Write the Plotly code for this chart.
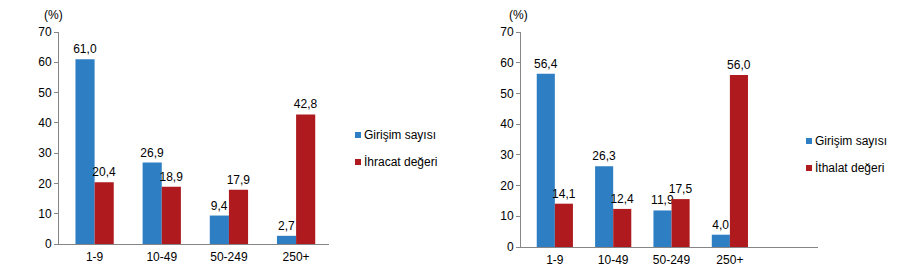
import plotly.graph_objects as go

categories = ["1-9", "10-49", "50-249", "250+"]
firm_left = [61.0, 26.9, 9.4, 2.7]
export_value = [20.4, 18.9, 17.9, 42.8]
firm_right = [56.4, 26.3, 11.9, 4.0]
import_value = [14.1, 12.4, 15.6, 56.0]
import_labels = ["14,1", "12,4", "17,5", "56,0"]
y_ticks = [0, 10, 20, 30, 40, 50, 60, 70]
legend_left = ["Girişim sayısı", "İhracat değeri"]
legend_right = ["Girişim sayısı", "İthalat değeri"]

BLUE = "#2D7EC3"
RED = "#AE1A1E"
AX = "#868686"
FONT = "Liberation Sans, Arial, sans-serif"
W, H = 900, 268

def lab(vals):
    return [f"{v:.1f}".replace(".", ",") for v in vals]

fig = go.Figure()
wl = 0.285
wr = 0.31
fig.add_trace(go.Bar(x=categories, y=firm_left, name=legend_left[0], marker_color=BLUE,
                     width=wl, offset=-wl, text=lab(firm_left),
                     xaxis="x", yaxis="y"))
fig.add_trace(go.Bar(x=categories, y=export_value, name=legend_left[1], marker_color=RED,
                     width=wl, offset=0, text=lab(export_value),
                     xaxis="x", yaxis="y"))
fig.add_trace(go.Bar(x=categories, y=firm_right, name=legend_right[0], marker_color=BLUE,
                     width=wr, offset=-wr, text=lab(firm_right),
                     xaxis="x2", yaxis="y2"))
fig.add_trace(go.Bar(x=categories, y=import_value, name=legend_right[1], marker_color=RED,
                     width=wr, offset=0, text=import_labels,
                     xaxis="x2", yaxis="y2"))

fig.update_traces(textposition="outside", constraintext="none", cliponaxis=False,
                  textfont=dict(size=12, color="#000000", family=FONT),
                  marker_line_width=0, showlegend=False)

xcommon = dict(type="category", showline=True, linecolor=AX, linewidth=1, ticks="",
               showgrid=False, tickfont=dict(size=12, color="#000000"), fixedrange=True,
               ticklabelstandoff=2)
ycommon = dict(range=[0, 70], tickvals=y_ticks, showline=True, linecolor=AX, linewidth=1,
               ticks="outside", ticklen=4, tickcolor=AX, showgrid=False, zeroline=False,
               tickfont=dict(size=12, color="#000000"))

# legend drawn as small squares + text
shapes = []
annotations = []
def add_legend(x_sq, ys, names, colors):
    for yy, nm, col in zip(ys, names, colors):
        shapes.append(dict(type="rect", xref="paper", yref="paper",
                           x0=x_sq / W, x1=(x_sq + 6) / W,
                           y0=1 - (yy + 3) / H, y1=1 - (yy - 3) / H,
                           fillcolor=col, line_width=0))
        annotations.append(dict(text=nm, x=(x_sq + 7) / W, y=1 - yy / H, xref="paper",
                                yref="paper", xanchor="left", yanchor="middle",
                                showarrow=False, font=dict(size=12)))

add_legend(355, [135, 162], legend_left, [BLUE, RED])
add_legend(806, [141, 168], legend_right, [BLUE, RED])

annotations.append(dict(text="(%)", x=53 / W, y=1 - 15 / H, xref="paper", yref="paper",
                        xanchor="center", yanchor="middle",
                        showarrow=False, font=dict(size=12)))
annotations.append(dict(text="(%)", x=518 / W, y=1 - 15 / H, xref="paper", yref="paper",
                        xanchor="center", yanchor="middle",
                        showarrow=False, font=dict(size=12)))

fig.update_layout(
    width=W, height=H, margin=dict(l=0, r=0, t=0, b=0, autoexpand=False),
    paper_bgcolor="white", plot_bgcolor="white",
    font=dict(family=FONT, size=12, color="#000000"),
    showlegend=False,
    xaxis=dict(xcommon, domain=[59 / W, 329 / W], range=[-0.53, 3.49], anchor="y"),
    yaxis=dict(ycommon, domain=[1 - 244 / H, 1 - 32 / H], anchor="x"),
    xaxis2=dict(xcommon, domain=[521 / W, 818 / W], range=[-0.58, 4.51], anchor="y2"),
    yaxis2=dict(ycommon, domain=[1 - 247 / H, 1 - 32 / H], anchor="x2"),
    shapes=shapes,
    annotations=annotations,
)

fig.write_html("out.html")
